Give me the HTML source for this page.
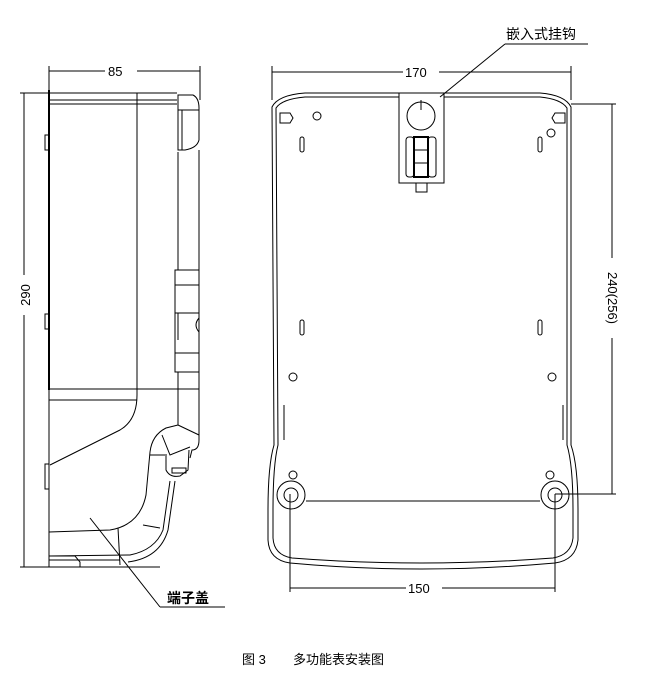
<!DOCTYPE html>
<html><head><meta charset="utf-8"><style>
html,body{margin:0;padding:0;background:#fff;width:662px;height:677px;overflow:hidden}
svg{display:block}
text{font-family:"Liberation Sans","Noto Sans CJK SC",sans-serif;fill:#000}
</style></head><body>
<svg width="662" height="677" viewBox="0 0 662 677" fill="none" stroke="#000" stroke-width="1">
<!-- LEFT VIEW -->
<line x1="49" y1="71" x2="200" y2="71"/>
<line x1="49" y1="66" x2="49" y2="95"/><line x1="200" y1="66" x2="200" y2="100"/>
<rect x="105" y="64" width="32" height="14" fill="#fff" stroke="none"/>
<text x="108" y="76" font-size="13" stroke="none">85</text>
<line x1="24" y1="93" x2="24" y2="567"/>
<line x1="20" y1="93" x2="49" y2="93"/><line x1="20" y1="567" x2="49" y2="567"/>
<rect x="17" y="275" width="14" height="40" fill="#fff" stroke="none"/>
<text x="30" y="295" font-size="13" stroke="none" transform="rotate(-90 30 295)" text-anchor="middle">290</text>
<line x1="49" y1="90" x2="49" y2="390" stroke-width="2"/>
<line x1="49" y1="93" x2="177" y2="93"/>
<line x1="49" y1="100" x2="177" y2="100"/>
<line x1="49" y1="104" x2="177" y2="104"/>
<line x1="137" y1="93" x2="137" y2="395"/>
<path d="M137 395 Q137 420 120 430 Q90 445 50 465"/>
<line x1="49" y1="389" x2="199" y2="389"/>
<line x1="49" y1="400" x2="137" y2="400"/>
<line x1="49" y1="390" x2="49" y2="567"/>
<line x1="49" y1="567" x2="160" y2="567"/>
<line x1="49" y1="560" x2="120" y2="560"/>
<path d="M50 556 L75 556 L80 562 L80 567"/>
<rect x="45" y="135" width="4" height="15"/><rect x="45" y="314" width="4" height="15"/>
<rect x="45" y="464" width="4" height="25"/>
<path d="M178 95 L193 95 Q199 98 199 108 L199 140 Q197 148 185 150 L178 150 Z"/>
<line x1="178" y1="110" x2="199" y2="110"/><line x1="182" y1="110" x2="182" y2="150"/>
<line x1="178" y1="152" x2="178" y2="270"/>
<line x1="199" y1="150" x2="199" y2="270"/>
<rect x="175" y="270" width="24" height="102"/>
<line x1="175" y1="285" x2="199" y2="285"/><line x1="175" y1="313" x2="199" y2="313"/>
<line x1="175" y1="353" x2="199" y2="353"/><line x1="178" y1="313" x2="178" y2="340"/>
<path d="M199 318 Q193 325 199 332"/>
<line x1="178" y1="372" x2="178" y2="425"/><line x1="199" y1="372" x2="199" y2="440"/>
<path d="M199 440 Q199 450 192 450 L190 458"/>
<path d="M178 425 L166 428 Q152 435 150 452 L146 495 Q140 525 110 530 L49 532"/>
<path d="M178 425 L199 435"/>
<path d="M162 435 L170 455 L190 447"/>
<path d="M150 455 L167 455"/>
<path d="M166 456 L166 470 Q170 478 180 476 L188 470 L189 450"/>
<rect x="172" y="468" width="14" height="5"/>
<path d="M170 481 L163 530 Q155 550 130 555 L49 556"/>
<path d="M175 481 L168 530 Q160 558 128 562"/>
<line x1="143" y1="525" x2="160" y2="528"/>
<line x1="118" y1="528" x2="120" y2="565"/>
<line x1="90" y1="518" x2="160" y2="607"/>
<line x1="160" y1="607" x2="225" y2="607"/>
<text x="167" y="603" font-size="14" font-weight="bold" stroke="none">端子盖</text>

<!-- FRONT VIEW -->
<line x1="272" y1="72" x2="571" y2="72"/>
<line x1="272" y1="66" x2="272" y2="100"/><line x1="571" y1="66" x2="571" y2="100"/>
<rect x="403" y="64" width="36" height="14" fill="#fff" stroke="none"/>
<text x="405" y="77" font-size="13" stroke="none">170</text>
<path d="M272 107 Q278 95 305 93 L540 93 Q565 95 571 107 L571 445 Q578 465 578 510 L578 540 Q576 560 555 563 Q420 575 290 563 Q269 560 268 540 L268 510 Q268 465 274 445 Z"/>
<path d="M276 108 Q282 99 305 97 L540 97 Q561 99 567 108 L567 445 Q573 465 573 510 L573 538 Q571 555 553 558 Q420 568 292 558 Q274 555 273 538 L273 510 Q273 465 278 445 Z"/>
<line x1="284" y1="405" x2="284" y2="440"/><line x1="563" y1="405" x2="563" y2="440"/>
<line x1="306" y1="501" x2="540" y2="501"/>
<line x1="571" y1="104" x2="616" y2="104"/>
<line x1="612" y1="104" x2="612" y2="494"/>
<line x1="555" y1="494" x2="616" y2="494"/>
<rect x="605" y="258" width="14" height="80" fill="#fff" stroke="none"/>
<text x="608" y="298" font-size="13" stroke="none" transform="rotate(90 608 298)" text-anchor="middle">240(256)</text>
<line x1="290" y1="494" x2="290" y2="592"/><line x1="555" y1="494" x2="555" y2="592"/>
<line x1="290" y1="588" x2="555" y2="588"/>
<rect x="406" y="580" width="36" height="14" fill="#fff" stroke="none"/>
<text x="408" y="593" font-size="13" stroke="none">150</text>
<circle cx="291" cy="495" r="14"/><circle cx="291" cy="495" r="7"/>
<circle cx="555" cy="495" r="14"/><circle cx="555" cy="495" r="7"/>
<circle cx="293" cy="475" r="4"/><circle cx="550" cy="475" r="4"/>
<circle cx="293" cy="377" r="4"/><circle cx="552" cy="377" r="4"/>
<circle cx="317" cy="116" r="4"/><circle cx="551" cy="133" r="4"/>
<path d="M280 113 L290 113 L293 118 L290 123 L280 123 Z"/>
<path d="M565 113 L555 113 L552 118 L555 123 L565 123 Z"/>
<rect x="300" y="137" width="4" height="15" rx="2"/><rect x="538" y="137" width="4" height="15" rx="2"/>
<rect x="300" y="320" width="4" height="15" rx="2"/><rect x="538" y="320" width="4" height="15" rx="2"/>
<rect x="399" y="93" width="45" height="90" fill="#fff"/>
<circle cx="421" cy="116" r="14"/>
<line x1="421" y1="100" x2="421" y2="110"/>
<rect x="406" y="137" width="8" height="40" rx="3"/><rect x="428" y="137" width="8" height="40" rx="3"/>
<rect x="414" y="137" width="14" height="40" stroke-width="2"/>
<line x1="414" y1="150" x2="428" y2="150"/><line x1="414" y1="163" x2="428" y2="163"/>
<rect x="416" y="183" width="11" height="9"/>
<line x1="440" y1="97" x2="505" y2="44"/>
<line x1="505" y1="44" x2="588" y2="44"/>
<text x="506" y="39" font-size="14" stroke="none">嵌入式挂钩</text>
<text x="242" y="664" font-size="13" stroke="none">图 3</text>
<text x="293" y="664" font-size="13" stroke="none">多功能表安装图</text>
</svg>
</body></html>
